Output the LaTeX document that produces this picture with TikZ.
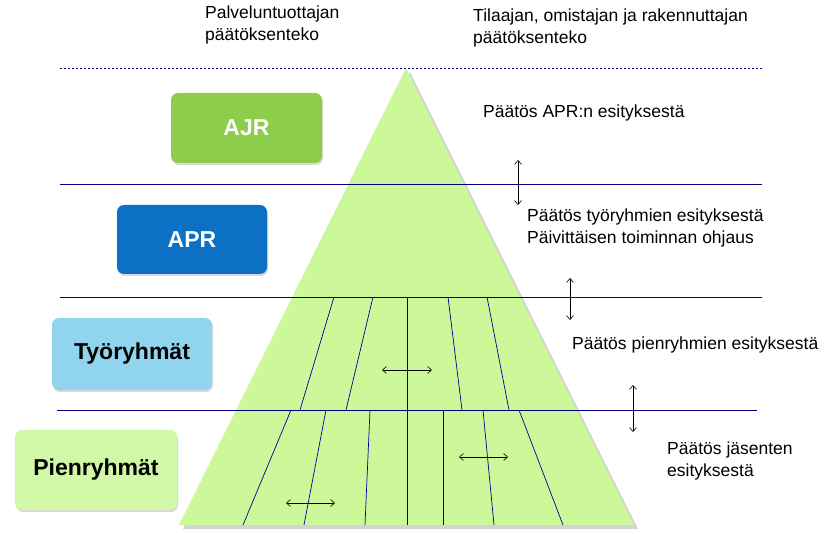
\documentclass[tikz,border=0pt]{standalone}
\usepackage{fontspec}
\setmainfont{Liberation Sans}
\usetikzlibrary{shadows,arrows.meta}
\begin{document}
\begin{tikzpicture}[x=1pt,y=-1pt,
  hline/.style={draw=blue!50!black, line width=0.7pt},
  sep/.style={draw=blue!60!black, line width=0.7pt},
  dbl/.style={{Straight Barb[length=4pt,width=7pt]}-{Straight Barb[length=4pt,width=7pt]}, line width=0.6pt},
  box/.style={rounded corners=7pt, font=\bfseries\fontsize{23}{26}\selectfont, drop shadow={shadow xshift=1pt,shadow yshift=-2pt,opacity=0.3}},
  lbl/.style={anchor=north west, align=left, font=\fontsize{17.5}{22}\selectfont, inner sep=0pt}]
\useasboundingbox (0,0) rectangle (829,534);
\definecolor{pyr}{HTML}{CCF89A}
% pyramid
\fill[pyr, drop shadow={shadow xshift=4pt,shadow yshift=-4pt,opacity=0.35}] (406,68) -- (634,525) -- (179,525) -- cycle;
% lines
\draw[hline, dash pattern=on 2pt off 2pt] (60,68) -- (762,68);
\draw[hline] (60,184) -- (762,184);
\draw[hline] (60,297) -- (762,297);
\draw[hline] (57,410) -- (757,410);
\foreach \a/\b in {334/300,373/346,407/407,448/462,487/509}
  \draw[sep] (\a,297) -- (\b,410);
\foreach \a/\b in {291/243,326/304,370/365,407/407,443/443,483/494,519/563}
  \draw[sep] (\a,410) -- (\b,525);
% boxes
\node[box, fill={rgb,255:red,140;green,205;blue,75}, text=white, minimum width=151pt, minimum height=70pt] (ajr) at (246.5,128) {AJR};
\node[box, fill={rgb,255:red,12;green,112;blue,196}, text=white, minimum width=150pt, minimum height=69pt] (apr) at (192,239.5) {APR};
\node[box, fill={rgb,255:red,145;green,212;blue,238}, text=black, minimum width=160pt, minimum height=72pt] (tyo) at (132,354) {Työryhmät};
\node[box, fill={rgb,255:red,208;green,248;blue,166}, text=black, minimum width=162pt, minimum height=80pt] (pien) at (96,470) {Pienryhmät};
% arrows
\coordinate (h1a) at (382,370); \coordinate (h1b) at (432,370);
\coordinate (h2a) at (459,457); \coordinate (h2b) at (508,457);
\coordinate (h3a) at (286,503); \coordinate (h3b) at (335,503);
\coordinate (v1a) at (518,160); \coordinate (v1b) at (518,205);
\coordinate (v2a) at (570,278); \coordinate (v2b) at (570,320);
\coordinate (v3a) at (633,385); \coordinate (v3b) at (633,432);
\foreach \p in {h1,h2,h3,v1,v2,v3} \draw[dbl] (\p a) -- (\p b);
% texts
\node[lbl] (t1) at (205,6) {Palveluntuottajan\\päätöksenteko};
\node[lbl] (t2) at (473,9) {Tilaajan, omistajan ja rakennuttajan\\päätöksenteko};
\node[lbl] (t3) at (483,105) {Päätös APR:n esityksestä};
\node[lbl] (t4) at (527,209) {Päätös työryhmien esityksestä\\Päivittäisen toiminnan ohjaus};
\node[lbl] (t5) at (572,337) {Päätös pienryhmien esityksestä};
\node[lbl] (t6) at (667,442) {Päätös jäsenten\\esityksestä};
\end{tikzpicture}
\end{document}
